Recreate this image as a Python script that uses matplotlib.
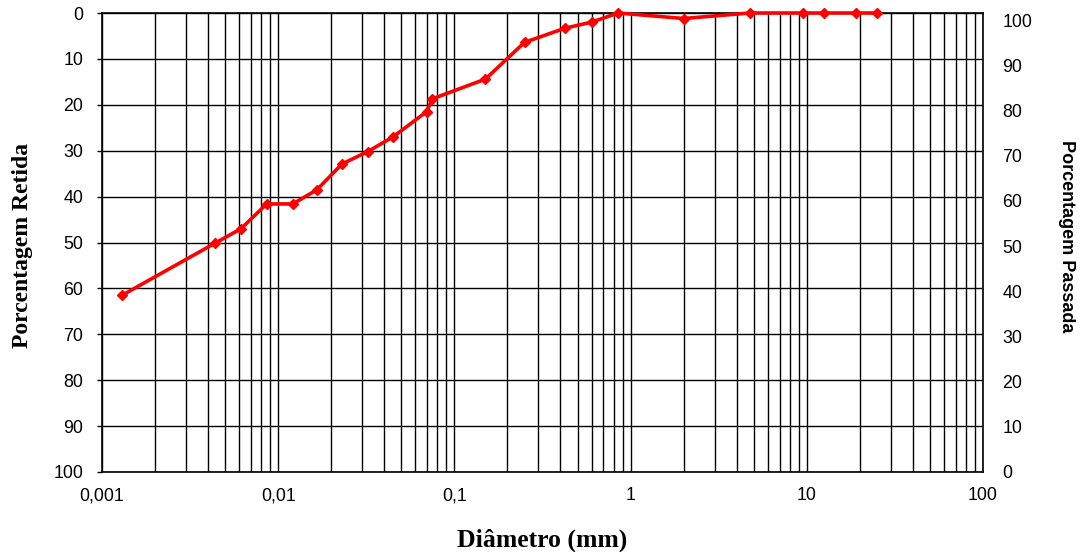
import matplotlib
matplotlib.use("Agg")
import matplotlib.pyplot as plt
import matplotlib.ticker as mticker
import numpy as np

# ── Data: granulometric curve (hydrometer + sieve) ─────────────────────────
diametro_mm = [0.0013, 0.0044, 0.00615, 0.0086, 0.0121, 0.0166, 0.0230, 0.0322,
               0.0448, 0.0695, 0.075, 0.15, 0.25, 0.425, 0.6, 0.85, 2.0,
               4.75, 9.5, 12.5, 19.0, 25.0]
retida_pct = [61.5, 50.1, 47.0, 41.6, 41.6, 38.5, 32.9, 30.2,
              27.0, 21.5, 18.7, 14.4, 6.4, 3.3, 2.0, 0.0, 1.2,
              0.0, 0.0, 0.0, 0.0, 0.0]

x_ticks = [0.001, 0.01, 0.1, 1, 10, 100]
x_tick_labels = ["0,001", "0,01", "0,1", "1", "10", "100"]
y_ticks = list(range(0, 101, 10))

SANS = "Liberation Sans"
SERIF = "Liberation Serif"
TICK_FS = 12.8

fig = plt.figure(figsize=(10.81, 5.52), dpi=100)
ax = fig.add_axes([102 / 1081, 1 - 472 / 552, 881 / 1081, 459 / 552])

ax.plot(diametro_mm, retida_pct, color="#ff0000", linewidth=2.6,
        marker="D", markersize=5.5, zorder=5, clip_on=False)

# ── X axis (log) ──────────────────────────────────────────────────────────
ax.set_xscale("log")
ax.set_xlim(0.001, 100)
ax.xaxis.set_major_locator(mticker.FixedLocator(x_ticks))
ax.xaxis.set_major_formatter(mticker.FixedFormatter(x_tick_labels))
ax.xaxis.set_minor_locator(mticker.LogLocator(base=10, subs=np.arange(2, 10)))
ax.xaxis.set_minor_formatter(mticker.NullFormatter())
ax.tick_params(axis="x", which="both", length=0, pad=11, labelsize=TICK_FS)

# ── Left Y axis (retained, inverted) ──────────────────────────────────────
ax.set_ylim(100, 0)
ax.set_yticks(y_ticks)
ax.tick_params(axis="y", which="major", length=3.6, width=1.0, pad=10,
               labelsize=TICK_FS)

for lab in ax.get_xticklabels() + ax.get_yticklabels():
    lab.set_fontfamily(SANS)

ax.grid(True, which="both", axis="x", color="black", linewidth=1.0)
ax.grid(True, which="major", axis="y", color="black", linewidth=1.0)
ax.set_axisbelow(True)
for sp in ax.spines.values():
    sp.set_linewidth(1.2)

ax.set_ylabel("Porcentagem Retida", family=SERIF, fontweight="bold",
              fontsize=17, va="center")
ax.yaxis.set_label_coords(-0.0908, 0.493)
ax.set_xlabel("Diâmetro (mm)", family=SERIF, fontweight="bold",
              fontsize=18.5, va="center")
ax.xaxis.set_label_coords(0.5, -0.148)

# ── Right Y axis (passing) ────────────────────────────────────────────────
ax2 = ax.twinx()
ax2.set_ylim(0, 101.55)
ax2.set_yticks(y_ticks)
ax2.tick_params(axis="y", length=0, pad=14, labelsize=TICK_FS)
for lab in ax2.get_yticklabels():
    lab.set_fontfamily(SANS)
for sp in ax2.spines.values():
    sp.set_visible(False)
ax2.set_ylabel("Porcentagem Passada", family=SANS, fontweight="bold",
               fontsize=13, rotation=270, va="center")
ax2.yaxis.set_label_coords(1.0953, 0.514)

fig.savefig("out.png", dpi=100)
